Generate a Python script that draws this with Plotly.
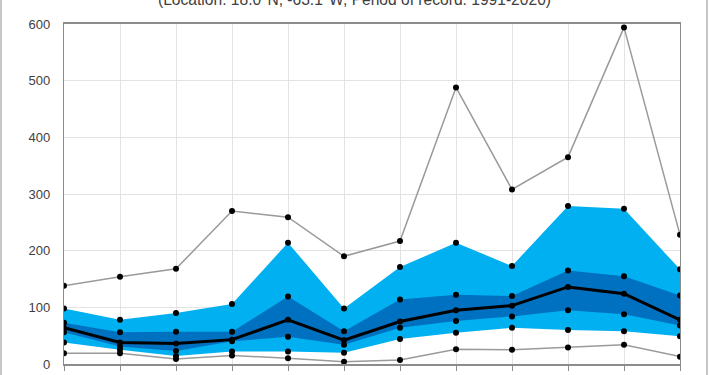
import plotly.graph_objects as go

months = ["Jan", "Feb", "Mar", "Apr", "May", "Jun", "Jul", "Aug", "Sep", "Oct", "Nov", "Dec"]
p_max = [138, 154, 168, 270, 259, 190, 217, 488, 308, 365, 594, 228]
p90 = [98, 78, 90, 106, 214, 98, 171, 214, 173, 279, 274, 167]
p75 = [73, 56, 57, 57, 119, 58, 114, 122, 120, 165, 155, 121]
median = [64, 38, 36, 43, 78, 42, 75, 95, 103, 136, 124, 78]
p25 = [56, 31, 23, 40, 48, 34, 64, 76, 84, 95, 88, 68]
p10 = [38, 25, 14, 22, 22, 20, 44, 55, 64, 60, 58, 49]
p_min = [19, 19, 9, 15, 10, 4, 7, 26, 25, 29, 34, 13]
y_ticks = [0, 100, 200, 300, 400, 500, 600]
subtitle = "(Location: 18.0°N, -63.1°W, Period of record: 1991-2020)"

LIGHT = "#00B0F0"
DARK = "#0070C0"
GRAY = "#9a9a9a"

fig = go.Figure()
fig.add_trace(go.Scatter(x=months, y=p90, mode="lines", line=dict(width=0, color=LIGHT), showlegend=False, hoverinfo="skip"))
fig.add_trace(go.Scatter(x=months, y=p10, mode="lines", line=dict(width=0, color=LIGHT), fill="tonexty", fillcolor=LIGHT, showlegend=False, hoverinfo="skip"))
fig.add_trace(go.Scatter(x=months, y=p75, mode="lines", line=dict(width=0, color=DARK), showlegend=False, hoverinfo="skip"))
fig.add_trace(go.Scatter(x=months, y=p25, mode="lines", line=dict(width=0, color=DARK), fill="tonexty", fillcolor=DARK, showlegend=False, hoverinfo="skip"))

for s in (p_max, p_min):
    fig.add_trace(go.Scatter(x=months, y=s, mode="lines+markers", line=dict(width=1.5, color=GRAY),
                             marker=dict(size=6, color="black"), showlegend=False))
for s in (p90, p75, p25, p10):
    fig.add_trace(go.Scatter(x=months, y=s, mode="markers", marker=dict(size=6, color="black"), showlegend=False))
fig.add_trace(go.Scatter(x=months, y=median, mode="lines+markers", line=dict(width=3, color="black"),
                         marker=dict(size=6, color="black"), showlegend=False))

fig.update_layout(
    width=710, height=375,
    margin=dict(l=64, r=30, t=24, b=11),
    paper_bgcolor="white", plot_bgcolor="white",
    font=dict(family="Liberation Sans, Arial, sans-serif", color="#595959", size=12),
    showlegend=False,
)
fig.update_xaxes(type="category", range=[0, 11], showgrid=True, gridcolor="#e3e3e3", gridwidth=1,
                 showline=True, linecolor="#8c8c8c", linewidth=1.5, mirror=True,
                 ticks="outside", ticklen=5, tickcolor="#8c8c8c", automargin=False,
                 tickfont=dict(size=12, color="#404040"), zeroline=False)
fig.update_yaxes(range=[0, 600], tickvals=y_ticks, showgrid=True, gridcolor="#e3e3e3", gridwidth=1,
                 showline=True, linecolor="#8c8c8c", linewidth=1.2, mirror=True,
                 ticks="", automargin=False, ticklabelstandoff=10,
                 tickfont=dict(size=13, color="#404040"), zeroline=False)

fig.add_shape(type="rect", xref="paper", yref="paper", x0=(1 - 64) / 616, x1=(707 - 64) / 616,
              y0=-0.2, y1=1.3, line=dict(color="#8c8c8c", width=1), layer="above")
fig.add_annotation(text=subtitle, xref="paper", yref="paper", x=(354 - 64) / 616, y=(364 + 1) / 340,
                   xanchor="center", yanchor="middle", showarrow=False,
                   font=dict(size=15.6, color="#404040"))

fig.write_html("out.html", config={"displayModeBar": False},
               post_script="document.body.style.margin='0';document.body.style.overflow='hidden';")
